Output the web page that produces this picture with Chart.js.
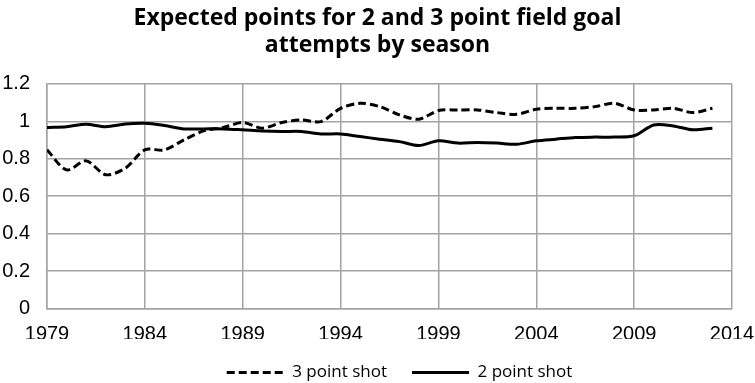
<!DOCTYPE html>
<html>
<head>
<meta charset="utf-8">
<script src="https://cdn.jsdelivr.net/npm/chart.js@4/dist/chart.umd.min.js"></script>
<style>
  html, body { margin: 0; padding: 0; background: #ffffff; }
  #wrap { width: 755px; height: 383px; }
</style>
</head>
<body>
<div id="wrap"><canvas id="c" width="755" height="383"></canvas></div>
<script>
const seasons = [1979,1980,1981,1982,1983,1984,1985,1986,1987,1988,1989,
  1990,1991,1992,1993,1994,1995,1996,1997,1998,1999,2000,2001,2002,
  2003,2004,2005,2006,2007,2008,2009,2010,2011,2012,2013];
const threePoint = [0.848,0.741,0.789,0.715,0.750,0.848,0.848,0.901,0.949,0.967,0.994,
  0.964,0.994,1.008,0.999,1.070,1.097,1.079,1.035,1.012,1.058,1.061,1.061,1.047,
  1.038,1.065,1.070,1.070,1.079,1.097,1.061,1.061,1.070,1.047,1.070];
const twoPoint = [0.967,0.972,0.985,0.972,0.986,0.990,0.978,0.960,0.960,0.960,0.955,
  0.949,0.946,0.946,0.933,0.933,0.919,0.905,0.892,0.871,0.896,0.884,0.887,0.884,
  0.878,0.896,0.905,0.914,0.916,0.916,0.923,0.981,0.976,0.955,0.964];
const seriesNames = ['3 point shot', '2 point shot'];
const titleLines = ['Expected points for 2 and 3 point field goal', 'attempts by season'];
const xTicks = [1979, 1984, 1989, 1994, 1999, 2004, 2009, 2014];
const yTicks = [0, 0.2, 0.4, 0.6, 0.8, 1, 1.2];

const toPoints = vals => vals.map((v, i) => ({ x: seasons[i], y: v }));
const gridColor = '#a3a3a3';

const legendShift = {
  id: 'legendShift',
  afterLayout(chart) {
    if (chart.legend) { chart.legend.left += 22; chart.legend.right += 22; }
  }
};

new Chart(document.getElementById('c'), {
  type: 'line',
  data: {
    datasets: [
      { label: seriesNames[0], data: toPoints(threePoint), borderColor: '#000', backgroundColor: '#000',
        borderWidth: 3, borderDash: [8, 4], pointRadius: 0, tension: 0.3, fill: false },
      { label: seriesNames[1], data: toPoints(twoPoint), borderColor: '#000', backgroundColor: '#000',
        borderWidth: 3, pointRadius: 0, tension: 0.3, fill: false }
    ]
  },
  plugins: [legendShift],
  options: {
    responsive: false,
    animation: false,
    events: [],
    layout: { padding: { left: 0, right: 0, top: 5, bottom: -8 } },
    plugins: {
      title: {
        display: true,
        text: titleLines,
        color: '#000',
        font: { family: 'Open Sans', weight: 'bold', size: 23, lineHeight: 1.18 },
        padding: { top: 0, bottom: 24.7 }
      },
      legend: {
        display: true,
        position: 'bottom',
        labels: {
          color: '#000',
          font: { family: 'Open Sans', size: 17 },
          usePointStyle: true,
          pointStyleWidth: 57,
          pointStyle: 'line',
          padding: 25,
          generateLabels: chart => {
            const items = Chart.defaults.plugins.legend.labels.generateLabels(chart);
            items.forEach((it, i) => {
              const ds = chart.data.datasets[it.datasetIndex ?? i];
              it.lineDash = ds.borderDash || [];
              it.lineWidth = 3;
              it.strokeStyle = '#000';
              it.lineCap = 'butt';
            });
            return items;
          }
        }
      },
      tooltip: { enabled: false }
    },
    scales: {
      x: {
        type: 'linear',
        min: xTicks[0],
        max: xTicks[xTicks.length - 1],
        afterBuildTicks: axis => { axis.ticks = xTicks.map(v => ({ value: v })); },
        afterFit: axis => { axis.height = 30.5; axis.paddingLeft = 0; axis.paddingRight = 23; },
        ticks: {
          color: '#000',
          font: { family: 'Liberation Sans', size: 20 },
          padding: 13.5,
          maxRotation: 0,
          autoSkip: false,
          callback: v => String(v)
        },
        grid: { color: gridColor, lineWidth: 1.5, drawTicks: false },
        border: { color: gridColor, width: 1.5 }
      },
      y: {
        min: 0,
        max: 1.2,
        afterBuildTicks: axis => { axis.ticks = yTicks.map(v => ({ value: v })); },
        afterFit: axis => { axis.width = 47; },
        ticks: {
          color: '#000',
          font: { family: 'Liberation Sans', size: 20 },
          padding: 17,
          callback: v => String(Math.round(v * 10) / 10)
        },
        grid: { color: gridColor, lineWidth: 1.5, drawTicks: false },
        border: { color: gridColor, width: 1.5 }
      }
    }
  }
});
</script>
</body>
</html>
